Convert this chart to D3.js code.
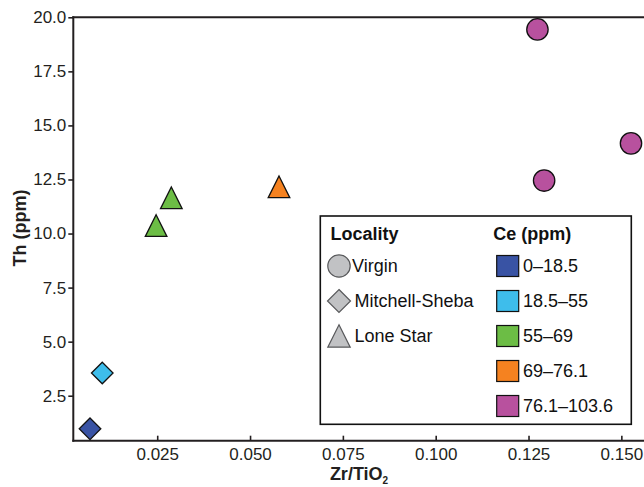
<!DOCTYPE html>
<html>
<head>
<meta charset="utf-8">
<script src="https://cdn.jsdelivr.net/npm/d3@7"></script>
<style>
  html, body { margin: 0; padding: 0; background: #fff; }
  svg { display: block; font-family: "Liberation Sans", Arial, sans-serif; }
</style>
</head>
<body>
<svg id="chart" width="644" height="487"></svg>
<script>
// ---- data ----
const zrTiO2   = [0.0069, 0.0102, 0.0247, 0.0288, 0.0578, 0.1274, 0.1292, 0.1526];
const thPpm    = [0.97,   3.55,   10.37,  11.65,  12.16,  19.44,  12.45,  14.17];
const locality = ["Mitchell-Sheba", "Mitchell-Sheba", "Lone Star", "Lone Star", "Lone Star", "Virgin", "Virgin", "Virgin"];
const ceClass  = ["0–18.5", "18.5–55", "55–69", "55–69", "69–76.1", "76.1–103.6", "76.1–103.6", "76.1–103.6"];

const localities = ["Virgin", "Mitchell-Sheba", "Lone Star"];
const ceClasses  = ["0–18.5", "18.5–55", "55–69", "69–76.1", "76.1–103.6"];
const ceColors   = ["#3953a4", "#3ebdeb", "#6cbd45", "#f58220", "#b8519e"];
const xTicks = [0.025, 0.050, 0.075, 0.100, 0.125, 0.150];
const yTicks = [2.5, 5.0, 7.5, 10.0, 12.5, 15.0, 17.5, 20.0];

// ---- layout ----
const svg = d3.select("#chart");
const mLeft = 73.3, mRight = 644, mTop = 17.3, mBottom = 440.7;
const x = d3.scaleLinear().domain([0.0024, 0.1561]).range([mLeft, mRight]);
const y = d3.scaleLinear().domain([0.42, 20]).range([mBottom, mTop]);
const color = d3.scaleOrdinal().domain(ceClasses).range(ceColors);
const ink = "#231f20";

// symbol path generators (centered on bbox)
function shapePath(type, s) {
  if (type === "Virgin") {
    const r = s;
    return `M${r},0A${r},${r} 0 1,1 ${-r},0A${r},${r} 0 1,1 ${r},0Z`;
  } else if (type === "Mitchell-Sheba") {
    return `M0,${-s}L${s},0L0,${s}L${-s},0Z`;
  } else {
    const h = s * 2, w = s * 2;
    return `M0,${-h/2}L${w/2},${h/2}L${-w/2},${h/2}Z`;
  }
}

// ---- axes ----
const yAxis = svg.append("g")
  .attr("transform", `translate(${mLeft},0)`)
  .call(d3.axisLeft(y).tickValues(yTicks).tickFormat(d3.format(".1f"))
        .tickSize(5).tickSizeOuter(0).tickPadding(2));
const xAxis = svg.append("g")
  .attr("transform", `translate(0,${mBottom})`)
  .call(d3.axisBottom(x).tickValues(xTicks).tickFormat(d3.format(".3f"))
        .tickSize(-5).tickSizeOuter(0).tickPadding(7));

[xAxis, yAxis].forEach(g => {
  g.selectAll(".domain").attr("stroke", ink).attr("stroke-width", 2);
  g.selectAll(".tick line").attr("stroke", ink).attr("stroke-width", 1.6);
  g.selectAll("text").attr("fill", ink).attr("font-size", 17)
    .attr("font-family", "'Liberation Sans', Arial, sans-serif");
});
xAxis.select(".domain").attr("d", `M${mLeft - 1},0H${mRight}`);
yAxis.select(".domain").attr("d", `M0,${mTop - 1}V${mBottom + 1}`);

// top border line
svg.append("line")
  .attr("x1", mLeft - 1).attr("x2", mRight)
  .attr("y1", mTop).attr("y2", mTop)
  .attr("stroke", ink).attr("stroke-width", 2);

// axis titles
svg.append("text")
  .attr("x", 359).attr("y", 480)
  .attr("text-anchor", "middle")
  .attr("font-size", 18).attr("font-weight", "bold").attr("fill", ink)
  .html('Zr/TiO<tspan font-size="10" dy="4">2</tspan>');
svg.append("text")
  .attr("transform", "translate(26,228) rotate(-90)")
  .attr("text-anchor", "middle")
  .attr("font-size", 18).attr("font-weight", "bold").attr("fill", ink)
  .text("Th (ppm)");

// ---- points ----
const pts = zrTiO2.map((v, i) => ({ x: v, y: thPpm[i], loc: locality[i], ce: ceClass[i] }));
svg.append("g").selectAll("path")
  .data(pts).join("path")
  .attr("transform", d => `translate(${x(d.x)},${y(d.y)})`)
  .attr("d", d => shapePath(d.loc, d.loc === "Virgin" ? 10.7 : 10.8))
  .attr("fill", d => color(d.ce))
  .attr("stroke", "#111")
  .attr("stroke-width", 1.3);

// ---- legend ----
const lg = svg.append("g");
lg.append("rect")
  .attr("x", 320.3).attr("y", 216).attr("width", 311).attr("height", 208.3)
  .attr("fill", "#fff").attr("stroke", "#111").attr("stroke-width", 1.6);
lg.append("text").attr("x", 330.5).attr("y", 240)
  .attr("font-size", 18).attr("font-weight", "bold").attr("fill", "#111").text("Locality");
lg.append("text").attr("x", 493.3).attr("y", 240)
  .attr("font-size", 18).attr("font-weight", "bold").attr("fill", "#111").text("Ce (ppm)");

const rowY = i => 266 + i * 35;
localities.forEach((loc, i) => {
  lg.append("path")
    .attr("transform", `translate(339,${rowY(i)})`)
    .attr("d", shapePath(loc, loc === "Mitchell-Sheba" ? 11.5 : 11.2))
    .attr("fill", "#c1c2c4").attr("stroke", "#58595b").attr("stroke-width", 1.2);
  lg.append("text").attr("x", loc === "Virgin" ? 352 : 354.5).attr("y", rowY(i)).attr("dy", "0.33em")
    .attr("font-size", 18).attr("fill", "#111").text(loc);
});
ceClasses.forEach((c, i) => {
  lg.append("rect")
    .attr("x", 496.7).attr("y", rowY(i) - 10.5).attr("width", 22).attr("height", 21)
    .attr("fill", color(c)).attr("stroke", "#111").attr("stroke-width", 1.2);
  lg.append("text").attr("x", 523).attr("y", rowY(i)).attr("dy", "0.33em")
    .attr("font-size", 18).attr("fill", "#111").text(c);
});
</script>
</body>
</html>
